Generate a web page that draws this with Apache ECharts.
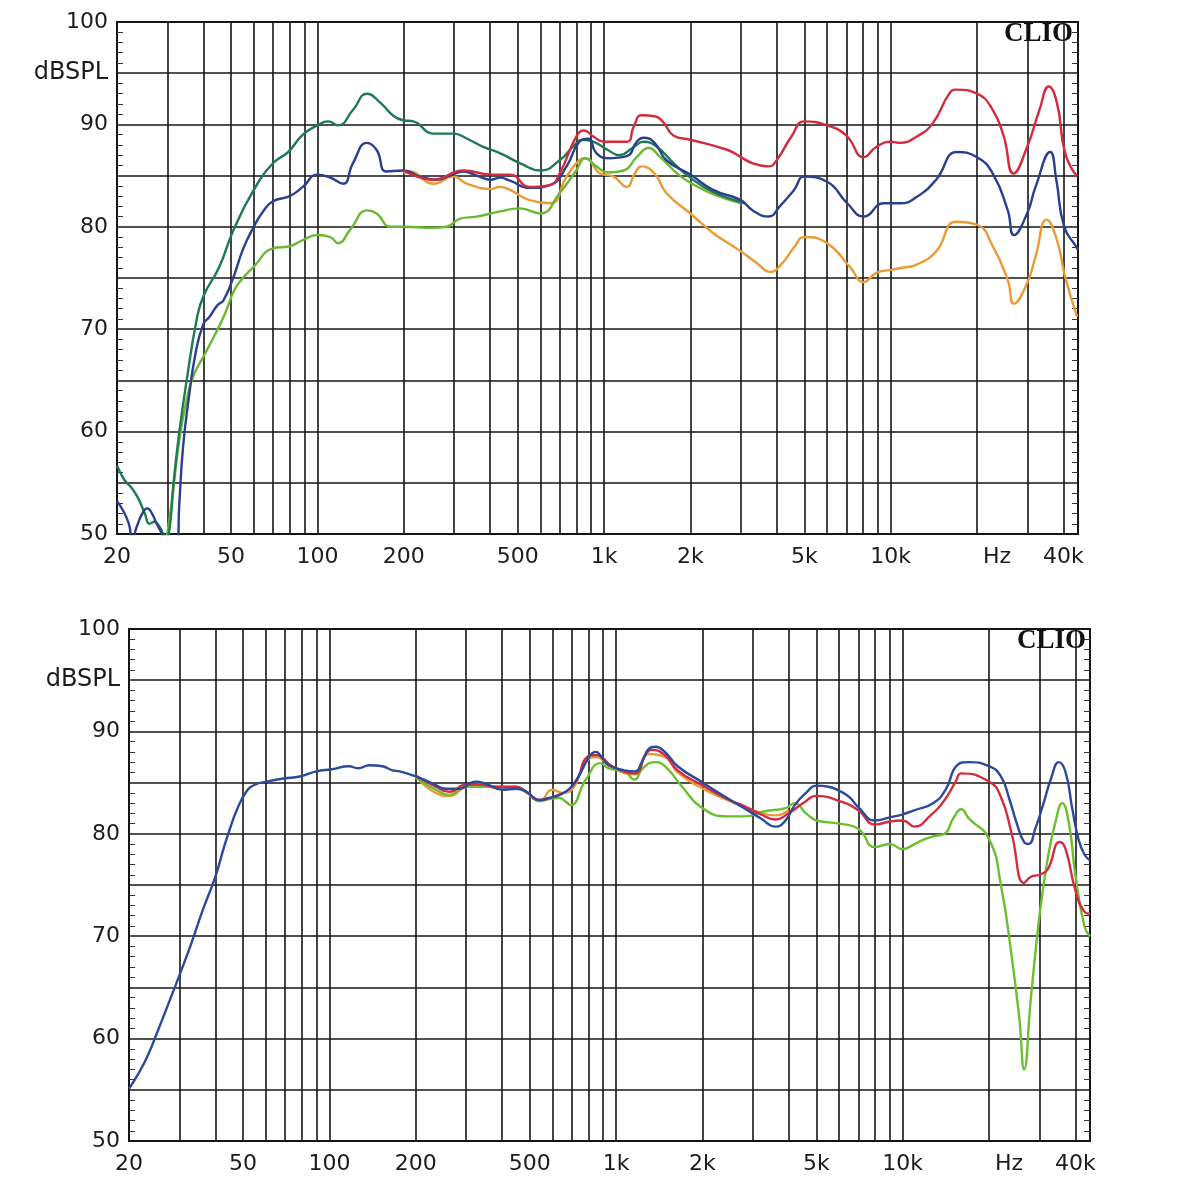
<!DOCTYPE html>
<html><head><meta charset="utf-8">
<script src="https://cdn.jsdelivr.net/npm/echarts@6/dist/echarts.min.js"></script>
<style>html,body{margin:0;padding:0;background:#fff}#c{width:1200px;height:1200px}</style>
</head><body><div id="c"></div>
<script>
// ---------- axis ticks / labels ----------
const xGridFreqs = [20,30,40,50,60,70,80,90,100,200,300,400,500,600,700,800,900,1000,2000,3000,4000,5000,6000,7000,8000,9000,10000,20000,30000,40000];
const xLabelFreqs = [20,50,100,200,500,1000,2000,5000,10000,23500,40000];
const xLabelTexts = ['20','50','100','200','500','1k','2k','5k','10k','Hz','40k'];
const yLabelValues = [100,95,90,80,70,60,50];
const yLabelTexts = ['100','dBSPL','90','80','70','60','50'];

// ---------- top chart ----------
const topBlueF = [20,21,22,22.6,23.5,24.5,25.5,26.5,27.5,28.7,30,32.3,33,34,35.5,37.5,40,42,45,47,51,55,60,65,70,80,89,100,111,123,133,149,161,174,200,228,261,290,323,360,404,433,470,550,650,740,820,880,940,1030,1200,1300,1370,1500,1650,2000,2400,3000,3300,3750,4100,4600,5000,6000,7050,8050,9460,10800,12300,14400,17000,20000,22700,25600,26900,29900,32000,36000,37800,40300,44700,45000];
const topBlueDb = [53.2,52.3,51,49.6,50.8,52,52.5,52,51,50,48.5,48.5,53,58.5,63,67.5,70.5,71.2,72.4,72.8,75.1,77.8,80,81.6,82.5,83,83.9,85.1,84.8,84.2,86.2,88.2,87.5,85.4,85.5,84.9,84.6,85.0,85.4,85.0,84.6,84.8,84.5,83.8,84.1,85.9,88.3,88.6,87.2,86.7,86.9,88.3,88.7,88.2,86.5,85.1,83.6,82.6,81.6,81.0,82.0,83.6,84.9,84.4,82.3,81.0,82.3,82.3,82.9,84.6,87.3,86.8,85.2,81.6,79.2,81.3,83.9,87.3,84.6,80.0,77.9,77.7];

const topDarkGreenF = [20,21.2,22.5,23.7,25,26,27,28,29,29.6,30.5,31.5,33,35,37.9,40,45.5,51,60,70,79,89,100,109,118,133,149,166,185,200,216,254,298,333,379,433,510,600,700,790,840,920,1030,1130,1270,1370,1530,1750,2000,2400,3100];
const topDarkGreenDb = [56.7,55.3,54.5,53.5,52,51,51.2,50.8,50,49.5,50.5,55,60,65,70.9,73.2,76.1,79.7,83.6,86.2,87.3,89,89.9,90.3,89.9,91.4,93.0,92.1,90.8,90.4,90.3,89.1,89.1,88.6,87.8,87.2,86.2,85.5,86.5,88.0,88.5,88.3,87.5,87.0,87.8,88.3,87.8,86.2,84.8,83.4,82.3];

const topLightGreenF = [29.5,30.5,31.5,33,35,37,40,44,47.6,51.3,55,60,70,80,89,100,111,118,130,149,161,180,200,254,282,315,359,433,508,600,700,800,860,940,1030,1170,1300,1430,1570,1800,2000,2400,3000];
const topLightGreenDb = [49,51.5,54.6,59.2,63.1,65.5,67.3,69.5,71.5,73.8,75,76.1,77.9,78.1,78.7,79.2,79.0,78.4,79.7,81.6,81.3,80,80,79.9,80,80.8,81,81.5,81.8,81.3,83.3,85.5,86.7,85.9,85.3,85.5,86.8,87.7,86.8,85.2,84.3,83.2,82.3];

const topRedF = [200,254,323,404,470,550,650,700,800,850,920,1000,1200,1270,1350,1500,1600,1750,2000,2700,3000,3300,3750,4000,4500,5000,6000,7000,8050,8900,10000,10800,12300,14000,16000,16900,20000,22700,24800,26800,29900,33000,35600,38000,40600,44700];
const topRedDb = [85.5,84.6,85.5,85.1,85.1,83.9,84.1,85.2,88.8,89.4,88.8,88.3,88.3,89.8,90.9,90.8,90.3,88.9,88.5,87.5,86.8,86.2,85.9,86.5,88.8,90.3,89.9,88.9,86.8,87.8,88.3,88.2,88.8,90.1,93.0,93.4,93.0,91.4,88.8,85.2,87.8,91.4,93.7,92.1,87.2,84.9];

const topOrangeF = [200,210,254,298,333,404,433,470,550,650,740,820,860,970,1080,1200,1280,1350,1500,1650,2000,2400,3000,3400,3800,4200,4600,5000,6000,7200,8050,8900,10000,11000,12300,14400,16900,20000,22700,25600,26900,29900,32000,35000,38000,40600,44700];
const topOrangeDb = [85.2,85.4,84.2,84.9,84.2,83.7,83.9,83.6,82.6,82.3,84.9,86.5,86.7,85.2,84.9,83.9,85.2,85.9,85.2,83.3,81.3,79.4,77.6,76.5,75.6,76.5,78.0,79.0,78.4,76.1,74.6,75.5,75.8,76.0,76.3,77.6,80.5,80.2,78.1,74.8,72.5,74.5,77.1,80.7,78.7,75.1,71.2];

// ---------- bottom chart ----------
const botBlueF = [20,21.8,23.3,25,27.8,30,33,36,40,43,45,47.5,51.3,55,60.5,69.3,78.9,90,102,117,126,138,153,166,176,200,230,255,283,323,351,401,448,487,540,585,634,688,740,805,850,895,942,1070,1160,1240,1300,1370,1480,1640,1980,2440,2800,3200,3600,3900,4200,4600,5000,5500,6000,6500,7000,8000,9000,10000,11000,12800,14100,15500,16900,20000,22000,23600,25000,26500,27500,29000,31000,33000,35000,37000,39000,41000,43000,45000];
const botBlueDb = [55.1,56.8,58.4,60.5,63.8,66.2,69.3,72.4,75.8,78.8,80.5,82.3,84.1,84.8,85.1,85.4,85.6,86.1,86.3,86.6,86.4,86.7,86.6,86.2,86.1,85.6,84.9,84.4,84.4,85.1,84.9,84.3,84.4,84.1,83.3,83.5,83.8,84.4,85.6,87.5,88.0,87.4,86.7,86.2,86.1,87.2,88.3,88.5,88.0,86.6,85.1,83.5,82.5,81.5,80.7,81.3,82.8,84.0,84.7,84.6,84.2,83.6,82.6,81.3,81.6,81.9,82.3,83.0,84.3,86.7,87.0,86.6,85.6,83.3,81.0,79.2,79.0,80.5,83.0,85.5,87.0,86.0,82.5,79.5,78.0,77.4];

const botRedF = [200,235,262,299,333,379,448,487,540,585,634,688,740,785,850,970,1160,1270,1330,1480,1640,1980,2440,2800,3200,3600,4000,4500,5000,6000,7000,8000,9000,10000,11000,12500,14000,15300,16000,20000,22000,24000,26500,28000,30000,32000,35300,37000,40000,43000,45000];
const botRedDb = [85.7,84.6,84.1,84.8,84.8,84.6,84.6,84.1,83.3,83.5,83.8,84.4,85.6,87.4,87.7,86.6,85.9,87.8,88.2,87.7,86.2,84.8,83.4,82.7,81.9,81.4,82.0,83.0,83.7,83.2,82.3,80.9,81.2,81.3,80.7,81.8,83.3,85.1,85.9,85.1,83.6,80.0,75.2,75.8,76.0,76.5,79.2,78.5,74.5,72.4,72.2];

const botGreenF = [200,235,262,299,333,379,448,487,540,585,634,670,694,785,880,942,1070,1160,1240,1370,1480,1700,1980,2440,2800,3300,3900,4200,4600,5000,6000,7000,8000,9000,10000,11000,12000,13000,14000,15000,16000,17000,20000,22000,24000,25500,26500,28000,30000,32000,34000,36000,38000,40000,43000,45000];
const botGreenDb = [85.5,84.3,83.8,84.6,84.6,84.6,84.5,84.1,83.2,83.4,83.5,83.1,82.8,85.3,86.9,86.4,86.1,85.3,86.4,87.0,86.6,84.6,82.6,81.7,81.7,82.2,82.5,83.0,82.0,81.3,81.0,80.5,78.7,79.0,78.5,79.0,79.5,79.8,80.0,81.5,82.4,81.5,79.5,75.0,68.0,62.0,57.0,64.0,72.0,77.5,81.0,83.0,81.0,76.0,71.0,70.0];

const botOrangeF = [200,235,262,299,333,379,448,487,540,600,650,700,785,850,970,1160,1300,1480,1640,1980,2440,3000,3600,4000];
const botOrangeDb = [85.6,84.0,83.7,84.6,84.8,84.5,84.6,84.0,83.2,84.3,84.0,84.3,87.0,87.5,86.4,85.8,87.8,87.5,86.0,84.5,83.3,82.3,81.8,82.3];

// ---------- helpers ----------
const lg = Math.log10;
function pts(F, D){ return F.map((f,i)=>[lg(f), D[i]]); }
const INK = '#161616';
const labelFont = {color:'#1c1c1c', fontSize:22, fontFamily:'DejaVu Sans, Liberation Sans, sans-serif'};

function makeX(gi){
  return {
    type:'value', gridIndex:gi, min:lg(20), max:lg(45000),
    axisLine:{show:false},
    axisTick:{show:false, customValues: xGridFreqs.map(lg)},
    splitLine:{show:true, lineStyle:{color:INK, width:1.6}},
    axisLabel:Object.assign({
      customValues: xLabelFreqs.map(lg), margin:12,
      formatter: v => { const i = xLabelFreqs.findIndex(f => Math.abs(lg(f)-v) < 1e-6); return i>=0 ? xLabelTexts[i] : ''; }
    }, labelFont)
  };
}
function makeY(gi, right){
  return {
    type:'value', gridIndex:gi, min:50, max:100, interval:5, position: right ? 'right':'left',
    axisLine:{show:false},
    axisTick:{show:false, inside:true, length:6},
    minorTick:{show:true, splitNumber:5, length:6, lineStyle:{color:'#333', width:1}},
    splitLine:{show:!right, lineStyle:{color:INK, width:1.6}},
    axisLabel: right ? {show:false} : Object.assign({
      margin:9,
      formatter: v => { const i = yLabelValues.indexOf(v); if (i<0) return ''; return v===95 ? '{u|'+yLabelTexts[i]+'}' : yLabelTexts[i]; },
      rich:{u:{fontSize:24, color:'#1c1c1c', fontFamily:'DejaVu Sans, Liberation Sans, sans-serif'}}
    }, labelFont)
  };
}
function line(xi, yi, F, D, color, z){
  return {type:'line', xAxisIndex:xi, yAxisIndex:yi, data:pts(F,D), showSymbol:false,
    smooth:0.5, z:z||2, lineStyle:{color:color, width:2.4}, clip:true};
}

const C = {red:'#d42b3e', blue:'#2b3f8f', dgreen:'#1e7a50', lgreen:'#6cb834', orange:'#ec9a34', bblue:'#2c4a9c', bgreen:'#6cbf2e'};
const clioStyle = {fontFamily:'Liberation Serif, Times New Roman, serif', fontWeight:'bold', fontSize:27, color:'#111'};

const chart = echarts.init(document.getElementById('c'), null, {renderer:'canvas'});
chart.setOption({
  animation:false,
  backgroundColor:'#fff',
  title:[
    {text:'CLIO', left:1004, top:21, padding:0, textStyle:clioStyle},
    {text:'CLIO', left:1017, top:628, padding:0, textStyle:clioStyle}
  ],
  grid:[
    {left:117, top:22, width:961, height:512, show:true, borderColor:INK, borderWidth:2, backgroundColor:'transparent'},
    {left:129, top:629, width:961, height:512, show:true, borderColor:INK, borderWidth:2, backgroundColor:'transparent'}
  ],
  xAxis:[makeX(0), makeX(1)],
  yAxis:[makeY(0,false), makeY(0,true), makeY(1,false), makeY(1,true)],
  series:[
    line(0,0,topOrangeF, topOrangeDb, C.orange, 2),
    line(0,0,topLightGreenF, topLightGreenDb, C.lgreen, 3),
    line(0,0,topDarkGreenF, topDarkGreenDb, C.dgreen, 4),
    line(0,0,topBlueF, topBlueDb, C.blue, 5),
    line(0,0,topRedF, topRedDb, C.red, 6),
    line(1,2,botOrangeF, botOrangeDb, C.orange, 2),
    line(1,2,botGreenF, botGreenDb, C.bgreen, 3),
    line(1,2,botRedF, botRedDb, C.red, 4),
    line(1,2,botBlueF, botBlueDb, C.bblue, 5)
  ]
});
</script></body></html>
